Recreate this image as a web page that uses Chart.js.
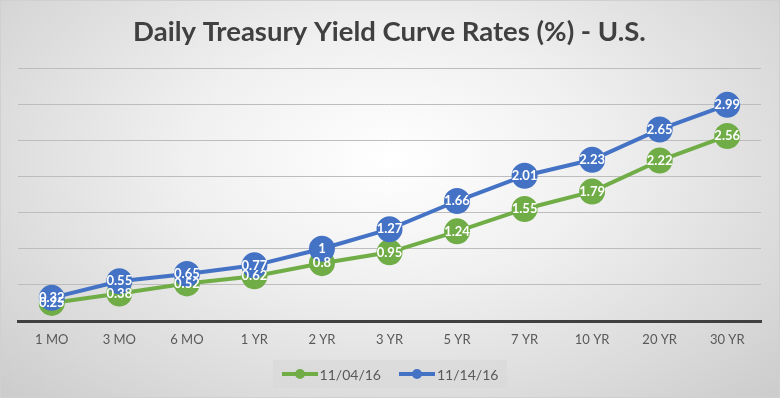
<!DOCTYPE html>
<html>
<head>
<meta charset="utf-8">
<script src="https://cdn.jsdelivr.net/npm/chart.js@4.4.1/dist/chart.umd.min.js"></script>
<style>
  html, body { margin: 0; padding: 0; }
  body { width: 780px; height: 398px; overflow: hidden; }
  #wrap {
    position: relative; width: 778px; height: 396px;
    border: 1px solid #d0d0d0;
    background: radial-gradient(ellipse 75% 90% at 50% 40%, #ffffff 0%, #f0f0f0 35%, #d8d8d8 75%, #c8c8c8 100%);
  }
  #c { position: absolute; left: 0; top: 0; }
  #legend {
    position: absolute; left: 272px; top: 359px; width: 234px; height: 28px;
    background: rgba(215,215,215,0.55);
    font-family: Lato, "Open Sans", sans-serif; font-size: 14px; color: #595959;
    display: flex; align-items: center; justify-content: center; gap: 18px;
  }
  .item { display: flex; align-items: center; }
  .sw { position: relative; width: 36px; height: 10px; margin-right: 2px; }
  .sw .ln { position: absolute; left: 0; top: 3px; width: 36px; height: 4px; }
  .sw .dt { position: absolute; left: 13px; top: 0; width: 10px; height: 10px; border-radius: 50%; }
</style>
</head>
<body>
<div id="wrap">
  <canvas id="c" width="778" height="396"></canvas>
  <div id="legend"></div>
</div>
<script>
const categories = ["1 MO", "3 MO", "6 MO", "1 YR", "2 YR", "3 YR", "5 YR", "7 YR", "10 YR", "20 YR", "30 YR"];
const seriesNames = ["11/04/16", "11/14/16"];
const rates0411 = [0.25, 0.38, 0.52, 0.62, 0.8, 0.95, 1.24, 1.55, 1.79, 2.22, 2.56];
const rates1411 = [0.32, 0.55, 0.65, 0.77, 1, 1.27, 1.66, 2.01, 2.23, 2.65, 2.99];
const yTicks = [0, 0.5, 1, 1.5, 2, 2.5, 3, 3.5];
const colors = ["#70AD47", "#4472C4"];

const labelPlugin = {
  id: 'pointLabels',
  afterDatasetsDraw(chart) {
    const ctx = chart.ctx;
    ctx.save();
    ctx.font = 'bold 13px Lato, "Open Sans", sans-serif';
    ctx.fillStyle = '#ffffff';
    ctx.textAlign = 'center';
    ctx.textBaseline = 'middle';
    [0, 1].forEach(di => {
      const meta = chart.getDatasetMeta(di);
      const data = chart.data.datasets[di].data;
      meta.data.forEach((pt, i) => {
        ctx.fillText(String(data[i]), pt.x, pt.y);
      });
    });
    ctx.restore();
  }
};

const chart = new Chart(document.getElementById('c'), {
  type: 'line',
  data: {
    labels: categories,
    datasets: [
      { label: seriesNames[0], data: rates0411, borderColor: colors[0], backgroundColor: colors[0],
        borderWidth: 4, pointRadius: 12, pointBorderWidth: 2, pointBorderColor: colors[0], order: 1, tension: 0 },
      { label: seriesNames[1], data: rates1411, borderColor: colors[1], backgroundColor: colors[1],
        borderWidth: 4, pointRadius: 12, pointBorderWidth: 2, pointBorderColor: colors[1], order: 0, tension: 0 }
    ]
  },
  options: {
    responsive: false,
    animation: false,
    layout: { padding: { left: 17, right: 18, top: 0, bottom: 46 } },
    plugins: {
      legend: { display: false },
      tooltip: { enabled: false },
      title: {
        display: true,
        text: 'Daily Treasury Yield Curve Rates (%) - U.S.',
        color: '#404040',
        font: { family: 'Lato, "Open Sans", sans-serif', size: 27.5, weight: 'bold' },
        padding: { top: 15, bottom: 19 }
      }
    },
    scales: {
      x: {
        offset: true,
        grid: { display: true, drawOnChartArea: false, drawTicks: false, color: 'rgba(0,0,0,0)' },
        border: { display: true, color: '#404040', width: 3 },
        ticks: { color: '#595959', font: { family: 'Lato, "Open Sans", sans-serif', size: 13 }, padding: 11, maxRotation: 0, autoSkip: false },
        afterFit(scale) { scale.height = 30; }
      },
      y: {
        min: 0, max: 3.5,
        afterBuildTicks(scale) { scale.ticks = yTicks.map(v => ({ value: v })); },
        ticks: { display: false },
        grid: { color: '#bdbdbd', lineWidth: 1, drawTicks: false },
        border: { display: false },
        afterFit(scale) { scale.width = 0; }
      }
    }
  },
  plugins: [labelPlugin]
});

const lg = document.getElementById('legend');
seriesNames.forEach((n, i) => {
  const it = document.createElement('div');
  it.className = 'item';
  it.innerHTML = '<div class="sw"><div class="ln" style="background:' + colors[i] + '"></div><div class="dt" style="background:' + colors[i] + '"></div></div><span>' + n + '</span>';
  lg.appendChild(it);
});
</script>
</body>
</html>
